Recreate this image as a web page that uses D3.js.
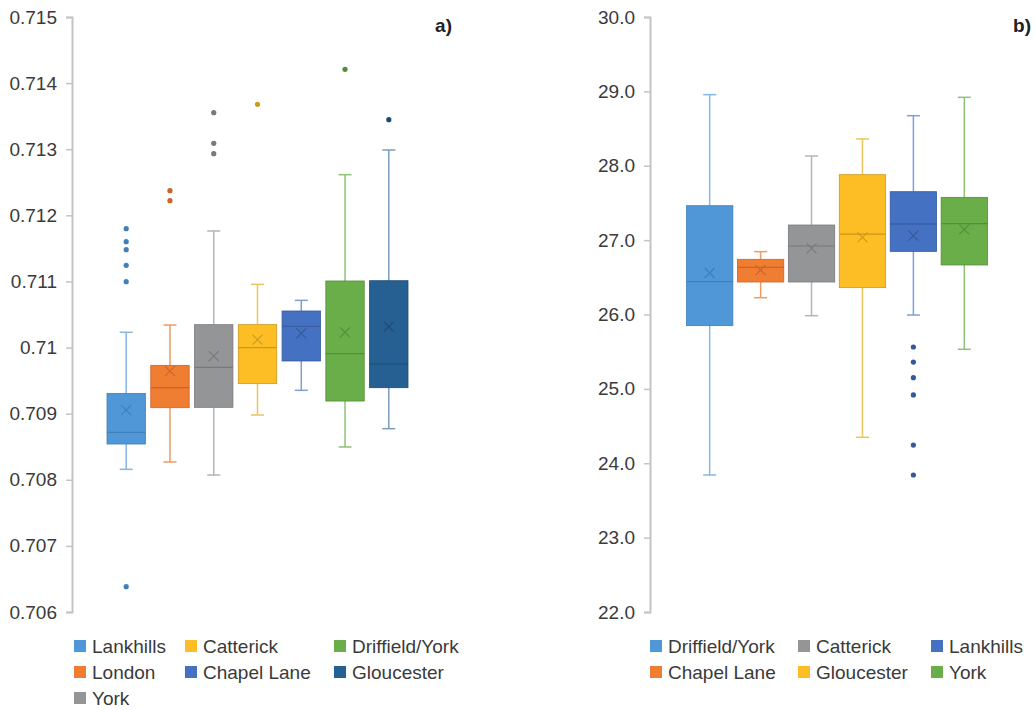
<!DOCTYPE html>
<html>
<head>
<meta charset="utf-8">
<script src="https://cdn.jsdelivr.net/npm/d3@7"></script>
<style>
  body { margin: 0; background: #fff; }
  svg text { font-family: "Liberation Sans", Arial, sans-serif; }
</style>
</head>
<body>
<svg width="1036" height="710"></svg>
<script>
// panel a) 87Sr/86Sr
const aSites = ["Lankhills", "London", "York", "Catterick", "Chapel Lane", "Driffield/York", "Gloucester"];
const aLow  = [0.708158, 0.708269, 0.708072, 0.708980, 0.709353, 0.708496, 0.708773];
const aQ1   = [0.708541, 0.709090, 0.709096, 0.709454, 0.709797, 0.709191, 0.709393];
const aMed  = [0.708717, 0.709393, 0.709701, 0.709998, 0.710322, 0.709907, 0.709751];
const aQ3   = [0.709307, 0.709731, 0.710346, 0.710346, 0.710553, 0.711007, 0.711011];
const aHigh = [0.710231, 0.710341, 0.711763, 0.710956, 0.710714, 0.712615, 0.712988];
const aMean = [0.709055, 0.709645, 0.709872, 0.710119, 0.710215, 0.710230, 0.710316];
const aOutliers = [
  [0.711798, 0.711601, 0.711480, 0.711244, 0.710996, 0.706383],
  [0.712373, 0.712221],
  [0.713553, 0.713089, 0.712932],
  [0.713679],
  [],
  [0.714209],
  [0.713447]
];
const aTicks = [0.706, 0.707, 0.708, 0.709, 0.710, 0.711, 0.712, 0.713, 0.714, 0.715];
const aLegendRows = [
  ["Lankhills", "Catterick", "Driffield/York"],
  ["London", "Chapel Lane", "Gloucester"],
  ["York"]
];

// panel b) d18O
const bSites = ["Driffield/York", "Chapel Lane", "Catterick", "Gloucester", "Lankhills", "York"];
const bLow  = [23.842, 26.226, 25.984, 24.349, 25.993, 25.532];
const bQ1   = [25.850, 26.437, 26.437, 26.361, 26.849, 26.666];
const bMed  = [26.441, 26.634, 26.921, 27.082, 27.217, 27.221];
const bQ3   = [27.463, 26.742, 27.203, 27.880, 27.651, 27.575];
const bHigh = [28.956, 26.845, 28.131, 28.360, 28.673, 28.920];
const bMean = [26.558, 26.598, 26.890, 27.038, 27.060, 27.145];
const bOutliers = [
  [], [], [], [],
  [25.563, 25.361, 25.150, 24.918, 24.245, 23.842],
  []
];
const bTicks = [22, 23, 24, 25, 26, 27, 28, 29, 30];
const bLegendRows = [
  ["Driffield/York", "Catterick", "Lankhills"],
  ["Chapel Lane", "Gloucester", "York"]
];

// colours by series slot (box fill, whisker, median/x)
const palette = [
  {fill: "#4f97d7", line: "#86b6e2", dark: "#3f7fba"},
  {fill: "#ef7d32", line: "#ef9a62", dark: "#c9652a"},
  {fill: "#939597", line: "#b3b4b6", dark: "#77797b"},
  {fill: "#fdbd25", line: "#e9c55a", dark: "#c99a1c"},
  {fill: "#4471c2", line: "#7f9fd6", dark: "#34589a"},
  {fill: "#6aae4a", line: "#8dc278", dark: "#548d3a"},
  {fill: "#266093", line: "#7b9cbd", dark: "#1d4a73"}
];
const aColors = [0, 1, 2, 3, 4, 5, 6];
const bColors = [0, 1, 2, 3, 4, 5];

const svg = d3.select("svg");

function drawPanel(p) {
  const y = d3.scaleLinear().domain(p.domain).range([612, 17]);
  const x = d3.scaleBand().domain(p.sites).range(p.xRange).paddingInner(p.pad);

  const axis = svg.append("g")
    .attr("transform", `translate(${p.axisX},0)`)
    .call(d3.axisLeft(y).tickValues(p.ticks).tickSizeOuter(0).tickSize(6).tickPadding(9).tickFormat(p.fmt));
  axis.select(".domain").attr("stroke", "#c4c4c4").attr("stroke-width", 2);
  axis.selectAll(".tick line").attr("stroke", "#c4c4c4").attr("stroke-width", 1.5);
  axis.selectAll(".tick text").attr("fill", "#3a3a3a").attr("font-size", 19);

  const bw = x.bandwidth();
  p.sites.forEach((s, i) => {
    const c = palette[p.colors[i]];
    const cx = x(s) + bw / 2;
    const g = svg.append("g");
    // whiskers
    g.append("line").attr("x1", cx).attr("x2", cx).attr("y1", y(p.high[i])).attr("y2", y(p.q3[i]))
      .attr("stroke", c.line).attr("stroke-width", 1.5);
    g.append("line").attr("x1", cx).attr("x2", cx).attr("y1", y(p.q1[i])).attr("y2", y(p.low[i]))
      .attr("stroke", c.line).attr("stroke-width", 1.5);
    [p.high[i], p.low[i]].forEach(v => {
      g.append("line").attr("x1", cx - 6.5).attr("x2", cx + 6.5).attr("y1", y(v)).attr("y2", y(v))
        .attr("stroke", c.line).attr("stroke-width", 1.5);
    });
    // box
    g.append("rect").attr("x", x(s) + 0.5).attr("width", bw - 1)
      .attr("y", y(p.q3[i])).attr("height", y(p.q1[i]) - y(p.q3[i]))
      .attr("fill", c.fill).attr("stroke", c.dark).attr("stroke-width", 0.8);
    g.append("line").attr("x1", x(s) + 0.5).attr("x2", x(s) + bw - 0.5)
      .attr("y1", y(p.med[i])).attr("y2", y(p.med[i]))
      .attr("stroke", c.dark).attr("stroke-width", 1.2);
    // mean marker
    const my = y(p.mean[i]);
    g.append("path").attr("d", `M${cx - 5},${my - 5}L${cx + 5},${my + 5}M${cx - 5},${my + 5}L${cx + 5},${my - 5}`)
      .attr("stroke", c.dark).attr("stroke-width", 1.1).attr("fill", "none");
    // outliers
    g.selectAll("circle").data(p.outliers[i]).enter().append("circle")
      .attr("cx", cx).attr("cy", d => y(d)).attr("r", 2.6).attr("fill", c.dark);
  });

  svg.append("text").attr("x", p.labelX).attr("y", 32).attr("text-anchor", "end")
    .attr("font-size", 19).attr("font-weight", "bold").attr("fill", "#222").text(p.label);

  // legend
  p.legendRows.forEach((rowItems, row) => {
    rowItems.forEach((s, col) => {
      const i = p.sites.indexOf(s);
      const lg = svg.append("g").attr("transform", `translate(${p.legendCols[col]},${646 + row * 26})`);
      lg.append("rect").attr("x", 0).attr("y", -6).attr("width", 12).attr("height", 12).attr("fill", palette[p.colors[i]].fill);
      lg.append("text").attr("x", 18).attr("y", 0).attr("dy", "0.35em").attr("font-size", 19)
        .attr("fill", "#3a3a3a").text(s);
    });
  });
}

drawPanel({
  sites: aSites, low: aLow, q1: aQ1, med: aMed, q3: aQ3, high: aHigh, mean: aMean, outliers: aOutliers,
  colors: aColors, ticks: aTicks, domain: [0.706, 0.715], fmt: d => String(+d.toFixed(3)),
  axisX: 72, xRange: [106.5, 408.5], pad: 0.1, label: "a)", labelX: 452,
  legendRows: aLegendRows, legendCols: [74, 185, 334]
});

drawPanel({
  sites: bSites, low: bLow, q1: bQ1, med: bMed, q3: bQ3, high: bHigh, mean: bMean, outliers: bOutliers,
  colors: bColors, ticks: bTicks, domain: [22, 30], fmt: d3.format(".1f"),
  axisX: 650, xRange: [686, 988], pad: 0.07, label: "b)", labelX: 1031,
  legendRows: bLegendRows, legendCols: [650, 798, 931]
});
</script>
</body>
</html>
